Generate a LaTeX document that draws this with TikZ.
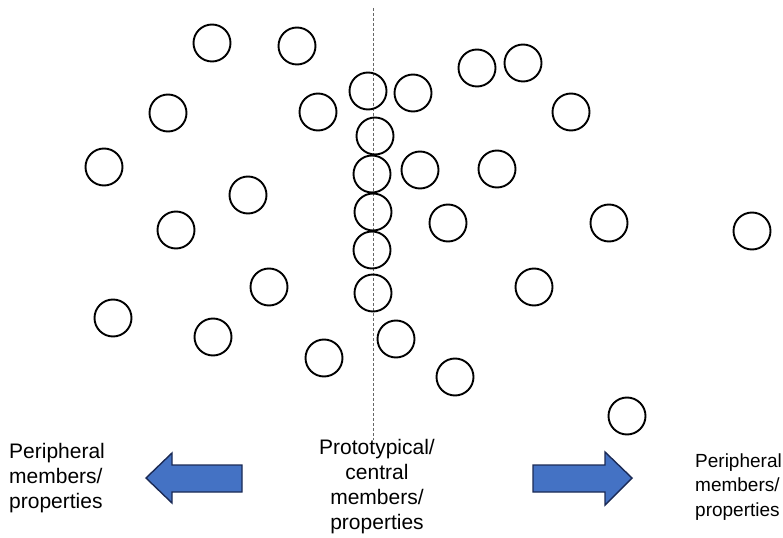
\documentclass[tikz,border=0pt]{standalone}
\usepackage{fontspec}
\setmainfont{Liberation Sans}
\definecolor{arrowfill}{HTML}{4472C4}
\definecolor{arrowline}{HTML}{1B2A55}
\begin{document}
\begin{tikzpicture}[x=1bp,y=-1bp,
  member/.style={draw=black,line width=1.9bp,circle,minimum size=37bp,inner sep=0pt},
  bigarrow/.style={fill=arrowfill,draw=arrowline,line width=1.4bp,line join=miter},
  label/.style={font=\fontsize{21bp}{25bp}\selectfont,inner sep=0pt,text=black},
  smalllabel/.style={font=\fontsize{19bp}{24.5bp}\selectfont,inner sep=0pt,text=black}]
\useasboundingbox (0,0) rectangle (783,538);
% dashed axis
\coordinate (axtop) at (373,8);
\coordinate (axbot) at (373,440);
\draw[gray!80!black,line width=0.9bp,dash pattern=on 3bp off 2bp] (axtop) -- (axbot);
% circles
\foreach \n/\x/\y in {1/212/43,2/297/46,3/168/113,4/318/112,5/368/91,6/413/93,
  7/477/68,8/523/63,9/571/112,10/375/136,11/104/167,12/248/195,13/372/174,
  14/420/170,15/497/169,16/176/230,17/373/212,18/448/223,19/609/223,20/752/231,
  21/372/250,22/269/287,23/373/293,24/534/287,25/113/318,26/213/337,27/396/339,
  28/324/358,29/455/377,30/627/416}
  \node[member] (c\n) at (\x,\y) {};
% arrows
\draw[bigarrow] (146,478) -- (172,453) -- (172,465) -- (242,465) -- (242,492)
  -- (172,492) -- (172,503) -- cycle;
\draw[bigarrow] (632,478) -- (605,452) -- (605,465) -- (533,465) -- (533,492)
  -- (605,492) -- (605,505) -- cycle;
% texts
\node[label,anchor=west,align=left] (left) at (9,478) {Peripheral\\members/\\properties};
\node[label,align=center] (center) at (377,487) {Prototypical/\\central\\members/\\properties};
\node[smalllabel,anchor=west,align=left] (right) at (695,487) {Peripheral\\members/\\properties};
\end{tikzpicture}
\end{document}
